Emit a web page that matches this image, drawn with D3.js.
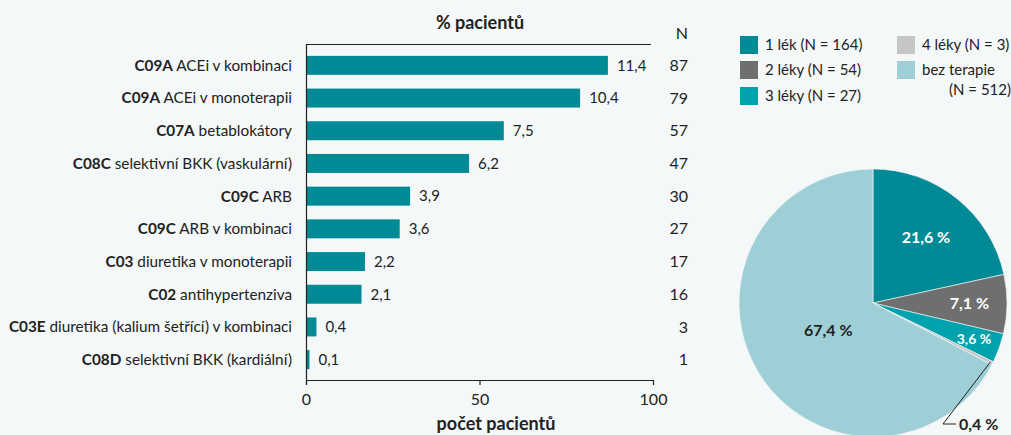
<!DOCTYPE html>
<html>
<head>
<meta charset="utf-8">
<script src="https://cdn.jsdelivr.net/npm/d3@7"></script>
<style>
  body { margin: 0; background: #f5f8f8; }
  svg { font-family: "Lato", "Noto Sans", sans-serif; }
</style>
</head>
<body>
<div id="chart"></div>
<script>
// bar chart data
const codes = ["C09A", "C09A", "C07A", "C08C", "C09C", "C09C", "C03", "C02", "C03E", "C08D"];
const names = ["ACEi v kombinaci", "ACEi v monoterapii", "betablokátory", "selektivní BKK (vaskulární)",
  "ARB", "ARB v kombinaci", "diuretika v monoterapii", "antihypertenziva",
  "diuretika (kalium šetřící) v kombinaci", "selektivní BKK (kardiální)"];
const counts = [87, 79, 57, 47, 30, 27, 17, 16, 3, 1];
const percents = ["11,4", "10,4", "7,5", "6,2", "3,9", "3,6", "2,2", "2,1", "0,4", "0,1"];
const xTicks = [0, 50, 100];

// pie data
const groups = ["1 lék", "2 léky", "3 léky", "4 léky", "bez terapie"];
const groupN = [164, 54, 27, 3, 512];
const groupPct = ["21,6 %", "7,1 %", "3,6 %", "0,4 %", "67,4 %"];
const groupColors = ["#008a95", "#6f6f6f", "#00a3ad", "#c6c6c6", "#9ecfd6"];

const width = 1011, height = 435;
const svg = d3.select("#chart").append("svg")
  .attr("width", width).attr("height", height);

// ---- bar chart ----
const x = d3.scaleLinear().domain([0, 100]).range([306, 653]);
const y = d3.scaleBand().domain(d3.range(codes.length)).range([49, 376]).paddingInner(0.42).paddingOuter(0.21);
const barColor = "#008a95";

svg.append("text")
  .attr("x", 480).attr("y", 29)
  .attr("text-anchor", "middle")
  .attr("font-size", 18).attr("font-weight", "bold").attr("fill", "#222")
  .text("% pacientů");

svg.append("text")
  .attr("x", 688).attr("y", 39)
  .attr("text-anchor", "end")
  .attr("font-size", 16).attr("fill", "#222")
  .text("N");

// top rule
svg.append("line")
  .attr("x1", 306).attr("x2", 651).attr("y1", 44.5).attr("y2", 44.5)
  .attr("stroke", "#222").attr("stroke-width", 1.2);

svg.selectAll("rect.bar")
  .data(counts)
  .join("rect")
  .attr("class", "bar")
  .attr("x", x(0))
  .attr("y", (d, i) => y(i))
  .attr("width", d => x(d) - x(0))
  .attr("height", y.bandwidth())
  .attr("fill", barColor);

// value labels (percent)
svg.selectAll("text.pct")
  .data(counts)
  .join("text")
  .attr("class", "pct")
  .attr("x", d => x(d) + 9)
  .attr("y", (d, i) => y(i) + y.bandwidth() / 2)
  .attr("dy", "0.35em")
  .attr("font-size", 15).attr("fill", "#222")
  .text((d, i) => percents[i]);

// N column
svg.selectAll("text.n")
  .data(counts)
  .join("text")
  .attr("class", "n")
  .attr("x", 688)
  .attr("y", (d, i) => y(i) + y.bandwidth() / 2)
  .attr("dy", "0.35em")
  .attr("text-anchor", "end")
  .attr("font-size", 16).attr("fill", "#222")
  .text(d => d);

// category labels
const cat = svg.selectAll("text.cat")
  .data(codes)
  .join("text")
  .attr("class", "cat")
  .attr("x", 292)
  .attr("y", (d, i) => y(i) + y.bandwidth() / 2)
  .attr("dy", "0.35em")
  .attr("text-anchor", "end")
  .attr("font-size", 15.3).attr("fill", "#222");
cat.append("tspan").attr("font-weight", "bold").text(d => d);
cat.append("tspan").text((d, i) => " " + names[i]);

// axes
const xAxis = svg.append("g")
  .attr("transform", "translate(0,380)")
  .call(d3.axisBottom(x).tickValues(xTicks).tickSize(5).tickSizeOuter(0).tickFormat(d3.format("d")));
xAxis.select(".domain").attr("stroke", "#222").attr("stroke-width", 1.2);
xAxis.selectAll(".tick line").attr("stroke", "#222").attr("stroke-width", 1.2);
xAxis.selectAll(".tick text").attr("font-size", 16).attr("fill", "#222")
  .attr("font-family", "Lato, 'Noto Sans', sans-serif").attr("dy", "1.05em");

svg.append("line")
  .attr("x1", 306.5).attr("x2", 306.5).attr("y1", 44).attr("y2", 385)
  .attr("stroke", "#222").attr("stroke-width", 1.2);

svg.append("text")
  .attr("x", 496).attr("y", 430)
  .attr("text-anchor", "middle")
  .attr("font-size", 18).attr("font-weight", "bold").attr("fill", "#222")
  .text("počet pacientů");

// ---- legend ----
const legendPos = [[740, 36], [740, 61], [740, 87], [897, 36], [897, 61]];
const leg = svg.selectAll("g.leg")
  .data(groups)
  .join("g")
  .attr("class", "leg")
  .attr("transform", (d, i) => `translate(${legendPos[i][0]},${legendPos[i][1]})`);
leg.append("rect")
  .attr("width", 18).attr("height", 18)
  .attr("fill", (d, i) => groupColors[i]);
leg.append("text")
  .attr("x", 25).attr("y", 9).attr("dy", "0.35em")
  .attr("font-size", 15).attr("fill", "#222")
  .text((d, i) => i === 4 ? d : `${d} (N = ${groupN[i]})`);
svg.append("text")
  .attr("x", 1011).attr("y", 90).attr("dy", "0.35em")
  .attr("text-anchor", "end")
  .attr("font-size", 15).attr("fill", "#222")
  .text(`(N = ${groupN[4]})`);

// ---- pie ----
const cx = 873, cy = 303, r = 134;
const pie = d3.pie().sort(null).value(d => d)(groupN);
const arc = d3.arc().innerRadius(0).outerRadius(r);
const pg = svg.append("g").attr("transform", `translate(${cx},${cy})`);
pg.selectAll("path")
  .data(pie)
  .join("path")
  .attr("d", arc)
  .attr("fill", (d, i) => groupColors[i])
  .attr("stroke", "#f5f8f8").attr("stroke-width", 0.6);

const labelR = [0.63, 0.72, 0.8, 0, 0.39];
const labelFill = ["#fff", "#fff", "#fff", "#222", "#222"];
const labelSize = [16, 16, 14, 16, 16];
pie.forEach((d, i) => {
  if (i === 3) return;
  const c = d3.arc().innerRadius(r * labelR[i]).outerRadius(r * labelR[i]).centroid(d);
  pg.append("text")
    .attr("x", c[0]).attr("y", c[1]).attr("dy", "0.35em")
    .attr("text-anchor", "middle")
    .attr("font-size", labelSize[i]).attr("font-weight", "bold")
    .attr("fill", labelFill[i])
    .text(groupPct[i]);
});

// leader line for the small slice
const small = pie[3];
const edge = d3.arc().innerRadius(r * 0.98).outerRadius(r * 0.98).centroid(small);
const elbow = [cx + 70, 424];
svg.append("polyline")
  .attr("points", `${cx + edge[0]},${cy + edge[1]} ${elbow[0]},${elbow[1]} ${elbow[0] + 13},${elbow[1]}`)
  .attr("fill", "none").attr("stroke", "#222").attr("stroke-width", 1);
svg.append("text")
  .attr("x", elbow[0] + 16).attr("y", elbow[1]).attr("dy", "0.35em")
  .attr("font-size", 16).attr("font-weight", "bold").attr("fill", "#222")
  .text(groupPct[3]);
</script>
</body>
</html>
